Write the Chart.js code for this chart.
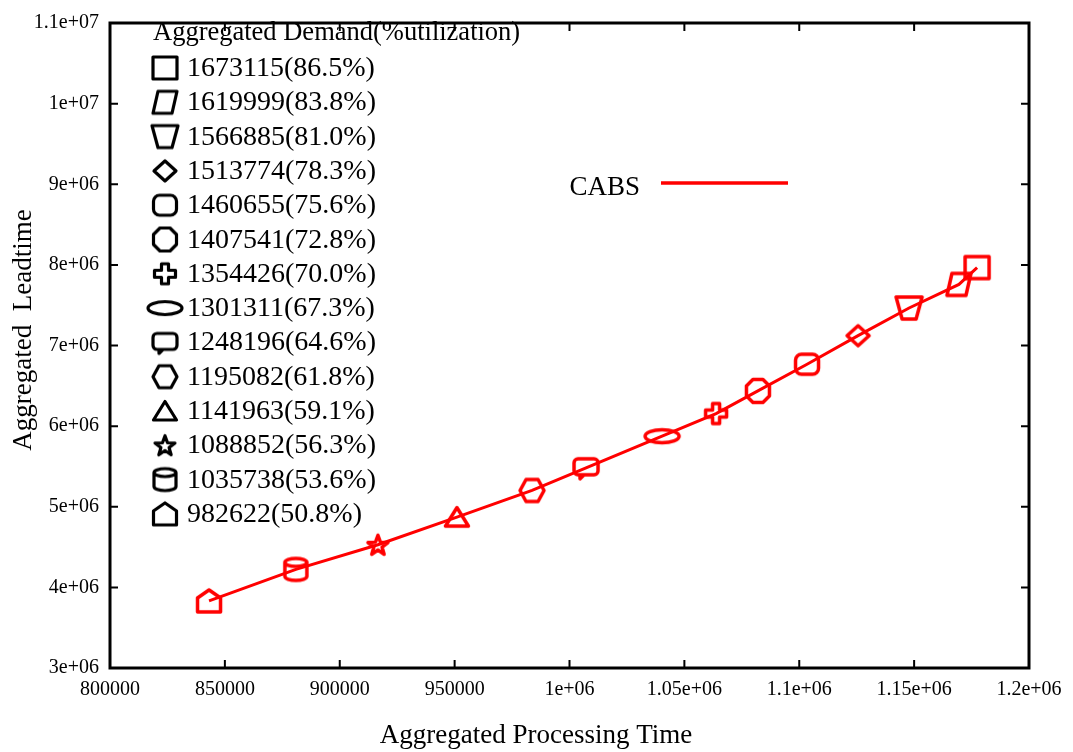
<!DOCTYPE html>
<html>
<head>
<meta charset="utf-8">
<title>Aggregated Leadtime vs Processing Time</title>
<script src="https://cdn.jsdelivr.net/npm/chart.js@4/dist/chart.umd.min.js"></script>
<style>
  html, body { margin: 0; padding: 0; background: #fff; }
  canvas { display: block; }
</style>
</head>
<body>
<canvas id="leadtimeChart" width="1073" height="752"></canvas>
<script>
// CABS run, one point per aggregated demand level (lowest demand first)
const processingTime = [843100, 880900, 916600, 951000, 983700, 1007200, 1040300,
                        1063800, 1082000, 1103400, 1125600, 1147800, 1169500, 1177400];
const leadtime = [3832000, 4223000, 4529000, 4872000, 5202000, 5483000, 5875000,
                  6156000, 6437000, 6768000, 7122000, 7465000, 7758000, 7966000];
const demand = [982622, 1035738, 1088852, 1141963, 1195082, 1248196, 1301311,
                1354426, 1407541, 1460655, 1513774, 1566885, 1619999, 1673115];
const utilization = ['50.8', '53.6', '56.3', '59.1', '61.8', '64.6', '67.3',
                     '70.0', '72.8', '75.6', '78.3', '81.0', '83.8', '86.5'];
const markerShapes = ['pentagon', 'cylinder', 'star', 'triangle', 'hexagon', 'bubble', 'ellipse',
                      'cross', 'octagon', 'roundSquare', 'diamond', 'trapezoid', 'parallelogram', 'square'];

const xTickLabels = ['800000', '850000', '900000', '950000', '1e+06',
                     '1.05e+06', '1.1e+06', '1.15e+06', '1.2e+06'];
const yTickLabels = ['3e+06', '4e+06', '5e+06', '6e+06', '7e+06', '8e+06',
                     '9e+06', '1e+07', '1.1e+07'];

const seriesName = 'CABS';
const legendTitle = 'Aggregated Demand(%utilization)';
const xTitle = 'Aggregated Processing Time';
const yTitle = 'Aggregated  Leadtime';

const SERIF = "'Liberation Serif', 'Times New Roman', serif";

function poly(g, pts) {
    g.moveTo(pts[0][0], pts[0][1]);
    for (let i = 1; i < pts.length; i++) g.lineTo(pts[i][0], pts[i][1]);
    g.closePath();
}

function traceShape(g, shape) {
    switch (shape) {
        case 'square':
            g.rect(-12, -11, 24, 22);
            break;
        case 'parallelogram':
            poly(g, [[-7, -11], [12, -11], [7, 11], [-12, 11]]);
            break;
        case 'trapezoid':
            poly(g, [[-13, -11], [13, -11], [7, 11], [-7, 11]]);
            break;
        case 'diamond':
            poly(g, [[0, -10], [11, 0], [0, 10], [-11, 0]]);
            break;
        case 'roundSquare':
            g.roundRect(-11.5, -10, 23, 20, 6);
            break;
        case 'octagon':
            poly(g, [[-5, -11.5], [5, -11.5], [11.5, -5], [11.5, 5], [5, 11.5], [-5, 11.5], [-11.5, 5], [-11.5, -5]]);
            break;
        case 'cross':
            poly(g, [[-3.5, -10], [3.5, -10], [3.5, -3.5], [10.5, -3.5], [10.5, 3.5], [3.5, 3.5],
                     [3.5, 10], [-3.5, 10], [-3.5, 3.5], [-10.5, 3.5], [-10.5, -3.5], [-3.5, -3.5]]);
            break;
        case 'ellipse':
            g.ellipse(0, 0, 17, 6.5, 0, 0, Math.PI * 2);
            break;
        case 'bubble':
            g.roundRect(-12, -9, 24, 16, 4);
            g.moveTo(-6, 7);
            g.lineTo(-6, 11);
            g.lineTo(-2, 7);
            break;
        case 'hexagon':
            poly(g, [[-12, 0], [-6, -11], [6, -11], [12, 0], [6, 11], [-6, 11]]);
            break;
        case 'triangle':
            poly(g, [[0, -9.5], [11.5, 9], [-11.5, 9]]);
            break;
        case 'star': {
            const pts = [];
            for (let k = 0; k < 10; k++) {
                const r = k % 2 ? 4.3 : 10.5;
                const a = -Math.PI / 2 + k * Math.PI / 5;
                pts.push([r * Math.cos(a), r * Math.sin(a) + 1]);
            }
            poly(g, pts);
            break;
        }
        case 'cylinder':
            g.moveTo(-11, -7);
            g.ellipse(0, -7, 11, 4, 0, Math.PI, 0);
            g.lineTo(11, 7);
            g.ellipse(0, 7, 11, 4, 0, 0, Math.PI);
            g.closePath();
            g.moveTo(-11, -7);
            g.ellipse(0, -7, 11, 4, 0, Math.PI, 0, true);
            break;
        case 'pentagon':
            poly(g, [[0, -11], [11.5, -3], [11.5, 11], [-11.5, 11], [-11.5, -3]]);
            break;
    }
}

function makeMarker(shape, color, width) {
    const c = document.createElement('canvas');
    c.width = 48;
    c.height = 48;
    const g = c.getContext('2d');
    g.translate(24, 24);
    g.strokeStyle = color;
    g.lineWidth = width;
    g.lineJoin = 'round';
    g.beginPath();
    traceShape(g, shape);
    g.stroke();
    return c;
}

const redMarkers = markerShapes.map(s => makeMarker(s, '#ff0000', 3.5));
const blackMarkers = markerShapes.map(s => makeMarker(s, '#000000', 3.2));

// frame, inward ticks on all four sides, axis titles and both keys
const gnuplotDecor = {
    id: 'gnuplotDecor',
    afterDraw(chart) {
        const ctx = chart.ctx;
        const { left, right, top, bottom } = chart.chartArea;
        const xs = chart.scales.x, ys = chart.scales.y;
        ctx.save();

        ctx.strokeStyle = '#000';
        ctx.lineWidth = 2;
        ctx.beginPath();
        xs.ticks.forEach((t, i) => {
            if (i === 0 || i === xs.ticks.length - 1) return;
            const px = xs.getPixelForValue(t.value);
            ctx.moveTo(px, bottom); ctx.lineTo(px, bottom - 8);
            ctx.moveTo(px, top); ctx.lineTo(px, top + 8);
        });
        ys.ticks.forEach((t, i) => {
            if (i === 0 || i === ys.ticks.length - 1) return;
            const py = ys.getPixelForValue(t.value);
            ctx.moveTo(left, py); ctx.lineTo(left + 8, py);
            ctx.moveTo(right, py); ctx.lineTo(right - 8, py);
        });
        ctx.stroke();

        ctx.lineWidth = 3;
        ctx.lineJoin = 'miter';
        ctx.strokeRect(left, top, right - left, bottom - top);

        ctx.fillStyle = '#000';
        ctx.font = '27px ' + SERIF;
        ctx.textBaseline = 'alphabetic';
        ctx.textAlign = 'center';
        ctx.fillText(xTitle, 536, 743);

        ctx.save();
        ctx.translate(31, 330);
        ctx.rotate(-Math.PI / 2);
        ctx.fillText(yTitle, 0, 0);
        ctx.restore();

        // demand key
        ctx.textAlign = 'left';
        ctx.font = '26.5px ' + SERIF;
        ctx.fillText(legendTitle, 153, 40);
        ctx.font = '28px ' + SERIF;
        const n = demand.length;
        for (let r = 0; r < n; r++) {
            const i = n - 1 - r;
            const base = 76 + 34.3 * r;
            ctx.drawImage(blackMarkers[i], 165 - 24, base - 8 - 24);
            ctx.fillText(demand[i] + '(' + utilization[i] + '%)', 187, base);
        }

        // series key
        ctx.font = '27px ' + SERIF;
        ctx.textAlign = 'right';
        ctx.fillText(seriesName, 640, 195);
        ctx.strokeStyle = '#ff0000';
        ctx.lineWidth = 3.5;
        ctx.beginPath();
        ctx.moveTo(661, 183);
        ctx.lineTo(788, 183);
        ctx.stroke();

        ctx.restore();
    }
};

const ctx = document.getElementById('leadtimeChart').getContext('2d');
new Chart(ctx, {
    type: 'line',
    data: {
        datasets: [{
            label: seriesName,
            data: processingTime.map((x, i) => ({ x: x, y: leadtime[i] })),
            borderColor: '#ff0000',
            borderWidth: 3,
            pointStyle: redMarkers,
            pointRadius: 12,
            tension: 0,
            fill: false
        }]
    },
    options: {
        responsive: false,
        animation: false,
        layout: { padding: { top: 14, right: 44, left: 0, bottom: 0 } },
        plugins: {
            legend: { display: false },
            tooltip: { enabled: false }
        },
        scales: {
            x: {
                type: 'linear',
                min: 800000,
                max: 1200000,
                afterFit: s => { s.height = 84; },
                ticks: {
                    stepSize: 50000,
                    padding: 10,
                    color: '#000',
                    font: { family: SERIF, size: 20 },
                    maxRotation: 0,
                    autoSkip: false,
                    callback: (v, i) => xTickLabels[i]
                },
                grid: { display: false, drawTicks: false },
                border: { display: false }
            },
            y: {
                type: 'linear',
                min: 3000000,
                max: 11000000,
                afterFit: s => { s.width = 110; },
                ticks: {
                    stepSize: 1000000,
                    padding: 11,
                    color: '#000',
                    font: { family: SERIF, size: 20 },
                    autoSkip: false,
                    callback: (v, i) => yTickLabels[i]
                },
                grid: { display: false, drawTicks: false },
                border: { display: false }
            }
        }
    },
    plugins: [gnuplotDecor]
});
</script>
</body>
</html>
